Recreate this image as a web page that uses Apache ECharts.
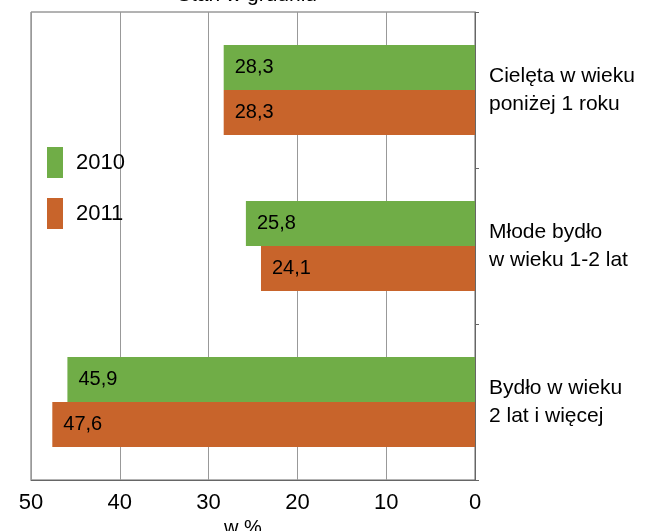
<!DOCTYPE html>
<html lang="pl">
<head>
    <meta charset="UTF-8">
    <title>Stan w grudniu</title>
    <style>
        html, body { margin: 0; padding: 0; background: #fff; }
        #box { width: 671px; height: 531px; }
    </style>
    <script src="https://cdn.jsdelivr.net/npm/echarts@6/dist/echarts.min.js"></script>
</head>
<body>
    <div id="box"></div>
    <script>
        // dane
        const categories = ['Cielęta w wieku\nponiżej 1 roku', 'Młode bydło\nw wieku 1-2 lat', 'Bydło w wieku\n2 lat i więcej'];
        const years = ['2010', '2011'];
        const values2010 = [28.3, 25.8, 45.9];
        const values2011 = [28.3, 24.1, 47.6];
        const xTicks = [0, 10, 20, 30, 40, 50];

        const font = 'Arial, "Liberation Sans", sans-serif';
        const green = '#70ad47';
        const orange = '#c8642b';

        const myChart = echarts.init(document.getElementById('box'));

        const barLabel = {
            show: true,
            position: 'insideLeft',
            distance: 11,
            color: '#000',
            fontFamily: font,
            fontSize: 20,
            formatter: p => String(p.value).replace('.', ',')
        };

        const option = {
            animation: false,
            textStyle: { fontFamily: font },
            graphic: [{
                type: 'text',
                x: 247,
                y: -5,
                style: {
                    text: 'Stan w grudniu',
                    align: 'center',
                    verticalAlign: 'middle',
                    font: '21px ' + font,
                    fill: '#000'
                }
            }],
            legend: {
                data: years,
                orient: 'vertical',
                left: 47,
                top: 147,
                padding: 0,
                itemWidth: 16,
                itemHeight: 31,
                itemGap: 20,
                icon: 'rect',
                textStyle: { fontSize: 22, color: '#000', fontFamily: font, padding: [0, 0, 0, 8] }
            },
            grid: {
                left: 31,
                right: 196,
                top: 12,
                bottom: 51,
                outerBoundsMode: 'none',
                containLabel: false,
                show: true,
                borderColor: '#666',
                borderWidth: 1
            },
            xAxis: {
                type: 'value',
                inverse: true,
                min: xTicks[0],
                max: xTicks[xTicks.length - 1],
                interval: 10,
                name: 'w %',
                nameLocation: 'middle',
                nameGap: 37,
                nameTextStyle: { fontSize: 20, color: '#000', fontFamily: font, padding: [0, 20, 0, 0] },
                axisLine: { show: true, lineStyle: { color: '#666' } },
                axisTick: { show: false },
                axisLabel: { fontSize: 22, color: '#000', margin: 12, fontFamily: font },
                splitLine: { show: true, lineStyle: { color: '#999' } }
            },
            yAxis: {
                type: 'category',
                data: categories,
                inverse: true,
                position: 'right',
                axisLine: { show: true, lineStyle: { color: '#666' } },
                axisTick: { show: true, length: 4, lineStyle: { color: '#666' } },
                axisLabel: {
                    fontSize: 21,
                    lineHeight: 28,
                    color: '#000',
                    margin: 14,
                    fontFamily: font,
                    align: 'left'
                }
            },
            series: [{
                name: years[0],
                type: 'bar',
                data: values2010,
                barWidth: 45,
                barGap: '0%',
                itemStyle: { color: green },
                label: barLabel
            }, {
                name: years[1],
                type: 'bar',
                data: values2011,
                barWidth: 45,
                barGap: '0%',
                itemStyle: { color: orange },
                label: barLabel
            }]
        };

        myChart.setOption(option);
    </script>
</body>
</html>
